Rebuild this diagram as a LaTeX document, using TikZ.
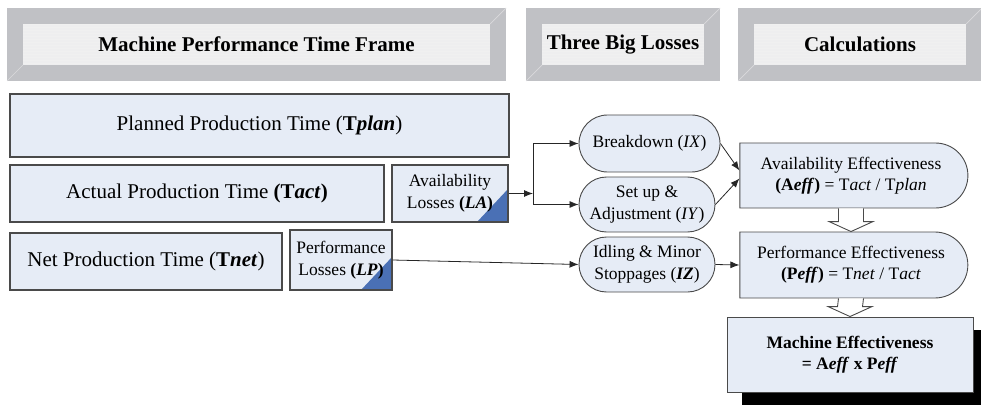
\documentclass[tikz,border=0pt]{standalone}
\usepackage{fontspec}
\setmainfont{Liberation Serif}
\usepackage{tikz}
\usetikzlibrary{arrows.meta, calc, patterns, shapes.misc, shadows}

\definecolor{hdgray}{HTML}{C0C1C5}
\definecolor{hdfill}{HTML}{EEEEEF}
\definecolor{bevelgray}{HTML}{DADADD}
\definecolor{boxfill}{HTML}{E6ECF6}
\definecolor{boxline}{HTML}{4A4A4A}
\definecolor{cornerblue}{HTML}{4A70B5}

\tikzset{
  hdbox/.style={draw=hdgray, line width=16pt, outer sep=0pt,
    preaction={fill=hdfill}, pattern=horizontal lines, pattern color=black!6,
    font=\fontsize{21}{24}\selectfont\bfseries},
  bevel/.style={draw=bevelgray, line width=0.7pt},
  timebox/.style={draw=boxline, fill=boxfill, line width=1.1pt, inner sep=0pt,
    font=\fontsize{21}{24}\selectfont},
  lossbox/.style={timebox, align=center, font=\fontsize{17.5}{22}\selectfont,
    path picture={\fill[cornerblue] (path picture bounding box.south east)
      -- ++(-31,0) -- ++(31,-33) -- cycle;}},
  bigloss/.style={draw=boxline, fill=boxfill, line width=0.9pt, inner sep=0pt,
    shape=rounded rectangle, align=center, font=\fontsize{17.5}{22}\selectfont},
  calcbox/.style={bigloss, rounded rectangle left arc=none,
    font=\fontsize{17.5}{21}\selectfont},
  resultbox/.style={draw=boxline, fill=boxfill, line width=0.9pt, inner sep=0pt,
    align=center, font=\fontsize{17.5}{21}\selectfont\bfseries,
    drop shadow={shadow xshift=15pt, shadow yshift=-13pt, fill=black, opacity=1}},
  link/.style={draw=black!85, line width=0.8pt, -{Latex[length=9pt,width=7pt]}},
  blockarrow/.style={draw=boxline, fill=white, line width=0.9pt}
}

\newcommand\hollowarrow[2]{%
  \draw[blockarrow] ($(#1.south)+(-12.5,0)$) -- ($(#2.north)+(-12.5,-10)$)
    -- ($(#2.north)+(-22,-10)$) -- (#2.north) -- ($(#2.north)+(22,-10)$)
    -- ($(#2.north)+(12.5,-10)$) -- ($(#1.south)+(12.5,0)$);}

\begin{document}
\begin{tikzpicture}[x=1pt, y=-1pt]
    \useasboundingbox (0,0) rectangle (981,406);
    % headers
    \node [hdbox, minimum width=483, minimum height=57] (hdframe) at (256.5,44.5) {Machine Performance Time Frame};
    \node [hdbox, minimum width=178, minimum height=57] (hdloss)  at (623,44.5)   {Three Big Losses};
    \node [hdbox, minimum width=228, minimum height=57] (hdcalc)  at (860,44.5)   {Calculations};
    \foreach \h in {hdframe, hdloss, hdcalc} {
      \draw [bevel] ($(\h.north east)+(8,-8)$) -- ($(\h.north east)+(-8,8)$);
      \draw [bevel] ($(\h.south west)+(-8,8)$) -- ($(\h.south west)+(8,-8)$);
    }
    % time frame
    \node [timebox, minimum width=499, minimum height=63] (tplan) at (259.5,125.5) {Planned Production Time (\textbf{T\textit{plan}})};
    \node [timebox, minimum width=374, minimum height=57] (tact)  at (197,193.5)   {Actual Production Time \textbf{(T\textit{act})}};
    \node [timebox, minimum width=272, minimum height=57] (tnet)  at (146,261.5)   {Net Production Time (\textbf{T\textit{net}})};
    \node [lossbox, minimum width=116, minimum height=57] (la)    at (450,193.5)   {Availability\\Losses \textbf{(\textit{LA})}};
    \node [lossbox, minimum width=102, minimum height=60] (lp)    at (341,260)     {Performance\\Losses \textbf{(\textit{LP})}};
    % three big losses
    \node [bigloss, minimum width=141, minimum height=57] (lx) at (649.5,143.5) {Breakdown (\textit{IX})};
    \node [bigloss, minimum width=136, minimum height=55] (ly) at (647,204.5)   {Set up \&\\Adjustment (\textit{IY})};
    \node [bigloss, minimum width=136, minimum height=55] (lz) at (647,264.5)   {Idling \& Minor\\Stoppages (\textbf{\textit{IZ}})};
    % calculations
    \node [calcbox, minimum width=228, minimum height=65] (aeff) at (851,175.5) {Availability Effectiveness\\\textbf{(A\textit{eff})} = T\textit{act} / T\textit{plan}};
    \node [calcbox, minimum width=228, minimum height=66] (peff) at (851,265)   {Performance Effectiveness\\\textbf{(P\textit{eff})} = T\textit{net} / T\textit{act}};
    \node [resultbox, minimum width=246, minimum height=75] (meff) at (850,354.5) {Machine Effectiveness\\= A\textit{eff} x P\textit{eff}};
    % connectors
    \coordinate (split) at (533,193.5);
    \draw [link] (la.east) -- (split);
    \draw [link] (split) |- (lx.west);
    \draw [link] (split) |- (ly.west);
    \draw [link] (lp.east) -- (lz.west);
    \draw [link] (lx.east) -- ($(aeff.west)+(0,-5)$);
    \draw [link] (ly.east) -- ($(aeff.west)+(0,3)$);
    \draw [link] (lz.east) -- (peff.west);
    \hollowarrow{aeff}{peff}
    \hollowarrow{peff}{meff}
\end{tikzpicture}
\end{document}
